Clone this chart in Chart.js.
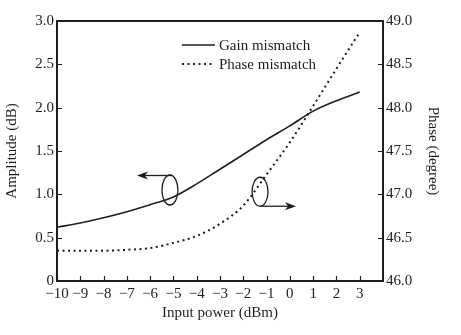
<!DOCTYPE html>
<html>
<head>
<meta charset="utf-8">
<script src="https://cdn.jsdelivr.net/npm/chart.js@4"></script>
<style>
  html, body { margin: 0; padding: 0; background: #ffffff; }
  #wrap { width: 461px; height: 335px; }
</style>
</head>
<body>
<div id="wrap"><canvas id="c" width="461" height="335"></canvas></div>
<script>
// Input power sweep (dBm)
const inputPower = [-10, -9, -8, -7, -6, -5, -4, -3, -2, -1, 0, 1, 2, 3];
// Amplitude error, left axis (dB)
const gainMismatch = [0.62, 0.67, 0.73, 0.80, 0.88, 0.97, 1.12, 1.29, 1.46, 1.63, 1.79, 1.96, 2.08, 2.18];
// Phase error, right axis (degree)
const phaseMismatch = [46.35, 46.35, 46.35, 46.36, 46.38, 46.44, 46.52, 46.66, 46.87, 47.23, 47.60, 48.02, 48.45, 48.87];
// Axis tick values
const xTicks = [-10, -9, -8, -7, -6, -5, -4, -3, -2, -1, 0, 1, 2, 3];
const ampTicks = [0, 0.5, 1.0, 1.5, 2.0, 2.5, 3.0];
const phaseTicks = [46.0, 46.5, 47.0, 47.5, 48.0, 48.5, 49.0];
// Series names
const seriesNames = ['Gain mismatch', 'Phase mismatch'];

const INK = '#1e1e1e';
const SERIF = '"Liberation Serif", "DejaVu Serif", serif';

const fmtX = v => (v < 0 ? '\u2212' + Math.abs(v) : String(v));

const frame = {
  id: 'frame',
  afterDraw(chart) {
    const ctx = chart.ctx;
    const a = chart.chartArea;
    const sx = chart.scales.x, sy = chart.scales.y, sp = chart.scales.y1;
    ctx.save();
    ctx.strokeStyle = INK;
    ctx.fillStyle = INK;

    // inward tick marks
    ctx.lineWidth = 1.2;
    ctx.beginPath();
    xTicks.forEach(v => {
      const px = Math.round(sx.getPixelForValue(v)) + 0.5;
      ctx.moveTo(px, a.bottom); ctx.lineTo(px, a.bottom - 5);
    });
    ampTicks.forEach(v => {
      const py = Math.round(sy.getPixelForValue(v)) + 0.5;
      ctx.moveTo(a.left, py); ctx.lineTo(a.left + 5, py);
    });
    phaseTicks.forEach(v => {
      const py = Math.round(sp.getPixelForValue(v)) + 0.5;
      ctx.moveTo(a.right, py); ctx.lineTo(a.right - 5, py);
    });
    ctx.stroke();

    // plot frame
    ctx.lineWidth = 2;
    ctx.strokeRect(a.left, a.top, a.right - a.left, a.bottom - a.top);

    // legend
    ctx.font = '15px ' + SERIF;
    ctx.textBaseline = 'middle';
    ctx.textAlign = 'left';
    chart.data.datasets.forEach((ds, i) => {
      const y = 45 + i * 19;
      ctx.save();
      ctx.lineWidth = ds.borderWidth;
      ctx.setLineDash(ds.borderDash || []);
      ctx.beginPath();
      ctx.moveTo(182, y); ctx.lineTo(215, y);
      ctx.stroke();
      ctx.restore();
      ctx.fillText(ds.label, 219, y + 1);
    });

    // loop markers with arrows pointing to each curve's axis
    const arrow = (x0, y0, x1, y1) => {
      const dir = Math.sign(x1 - x0);
      ctx.lineWidth = 1.3;
      ctx.beginPath();
      ctx.moveTo(x0, y0); ctx.lineTo(x1 - dir * 4, y1);
      ctx.stroke();
      ctx.beginPath();
      ctx.moveTo(x1, y1);
      ctx.lineTo(x1 - dir * 11, y1 - 4);
      ctx.lineTo(x1 - dir * 8, y1);
      ctx.lineTo(x1 - dir * 11, y1 + 4);
      ctx.closePath();
      ctx.fill();
    };
    ctx.lineWidth = 1.3;
    // gain loop -> left axis
    const gx = sx.getPixelForValue(-5.15), gy = sy.getPixelForValue(1.05);
    ctx.beginPath();
    ctx.ellipse(gx, gy, 8, 15, 0, 0, Math.PI * 2);
    ctx.stroke();
    arrow(gx + 2, gy - 14.5, gx - 33, gy - 14.5);
    // phase loop -> right axis
    const px = sx.getPixelForValue(-1.28), py = sp.getPixelForValue(47.03);
    ctx.lineWidth = 1.3;
    ctx.beginPath();
    ctx.ellipse(px, py, 8, 14.5, 0, 0, Math.PI * 2);
    ctx.stroke();
    arrow(px + 1, py + 14.5, px + 36, py + 14.5);

    ctx.restore();
  }
};

new Chart(document.getElementById('c'), {
  type: 'line',
  data: {
    datasets: [
      {
        label: seriesNames[0],
        data: inputPower.map((x, i) => ({ x, y: gainMismatch[i] })),
        yAxisID: 'y',
        borderColor: INK,
        borderWidth: 1.6,
        pointRadius: 0,
        cubicInterpolationMode: 'monotone',
        fill: false
      },
      {
        label: seriesNames[1],
        data: inputPower.map((x, i) => ({ x, y: phaseMismatch[i] })),
        yAxisID: 'y1',
        borderColor: INK,
        borderWidth: 2,
        borderDash: [2, 3.5],
        pointRadius: 0,
        cubicInterpolationMode: 'monotone',
        fill: false
      }
    ]
  },
  options: {
    responsive: false,
    animation: false,
    devicePixelRatio: 1,
    layout: { padding: { top: 21, left: 0, right: 0, bottom: 0 } },
    plugins: { legend: { display: false }, tooltip: { enabled: false } },
    scales: {
      x: {
        type: 'linear',
        min: -10, max: 4,
        afterFit: s => { s.height = 54; },
        afterBuildTicks: s => { s.ticks = xTicks.map(v => ({ value: v })); },
        grid: { display: false, drawTicks: false },
        border: { display: false },
        ticks: {
          padding: 4, color: INK, maxRotation: 0, autoSkip: false,
          font: { family: SERIF, size: 15 },
          callback: v => fmtX(v)
        },
        title: {
          display: true, text: 'Input power (dBm)', color: INK,
          font: { family: SERIF, size: 15 }, padding: { top: 0, bottom: 13 }
        }
      },
      y: {
        position: 'left',
        min: 0, max: 3,
        afterFit: s => { s.width = 57; },
        afterBuildTicks: s => { s.ticks = ampTicks.map(v => ({ value: v })); },
        grid: { display: false, drawTicks: false },
        border: { display: false },
        ticks: {
          padding: 3, color: INK,
          font: { family: SERIF, size: 15 },
          callback: v => (v === 0 ? '0' : v.toFixed(1))
        },
        title: {
          display: true, text: 'Amplitude (dB)', color: INK,
          font: { family: SERIF, size: 15 }, padding: { top: 3, bottom: 0 }
        }
      },
      y1: {
        position: 'right',
        min: 46, max: 49,
        afterFit: s => { s.width = 78; },
        afterBuildTicks: s => { s.ticks = phaseTicks.map(v => ({ value: v })); },
        grid: { display: false, drawTicks: false },
        border: { display: false },
        ticks: {
          padding: 3, color: INK,
          font: { family: SERIF, size: 15 },
          callback: v => v.toFixed(1)
        },
        title: {
          display: true, text: 'Phase (degree)', color: INK,
          font: { family: SERIF, size: 15 }, padding: { top: 19, bottom: 0 }
        }
      }
    }
  },
  plugins: [frame]
});
</script>
</body>
</html>
